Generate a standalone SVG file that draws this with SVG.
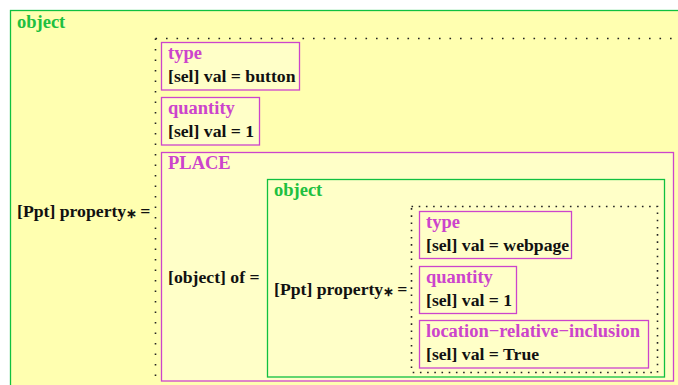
<svg xmlns="http://www.w3.org/2000/svg" width="678" height="385" viewBox="0 0 678 385">
<style>
text{font-family:"Liberation Serif","Times New Roman",serif;font-weight:bold}
.lbl{font-size:18.5px}
.body{font-size:17.7px;fill:#111}
.ast{font-size:13px}
.g{fill:#20c040}
.m{fill:#cc44cc}
.og{fill:#ffffb0;stroke:#10c040;stroke-width:1.3}
.ig{fill:#ffffc8;stroke:#10c040;stroke-width:1.3}
.mb{fill:#ffffc8;stroke:#cc44cc;stroke-width:1.3}
.dot{fill:none;stroke:#222;stroke-width:1.6;stroke-dasharray:1.6 8.9}
.dot2{fill:none;stroke:#222;stroke-width:1.6;stroke-dasharray:1.6 5.6}
</style>
<rect width="678" height="385" fill="#fff"/>
<g id="object-outer">
<rect class="og" x="10.5" y="10.5" width="680" height="390"/>
<text class="lbl g" x="17" y="28">object</text>
<text class="body" x="17" y="217">[Ppt] property<tspan class="ast" dy="1">∗</tspan><tspan dy="-1" dx="3">=</tspan></text>
</g>
<g id="type1">
<rect class="mb" x="161.5" y="42.5" width="138" height="47.5"/>
<text class="lbl m" x="168" y="59">type</text>
<text class="body" x="168" y="82">[sel] val = button</text>
</g>
<g id="quantity1">
<rect class="mb" x="161.5" y="97.5" width="98" height="47.5"/>
<text class="lbl m" x="168" y="114">quantity</text>
<text class="body" x="168" y="137">[sel] val = 1</text>
</g>
<g id="place">
<rect class="mb" x="161.5" y="152.5" width="512" height="228.5"/>
<text class="lbl m" x="168" y="169">PLACE</text>
<text class="body" x="168" y="283">[object] of =</text>
</g>
<g id="object-inner">
<rect class="ig" x="267.5" y="179.5" width="397" height="197.5"/>
<text class="lbl g" x="274" y="196">object</text>
<text class="body" x="274" y="295">[Ppt] property<tspan class="ast" dy="1">∗</tspan><tspan dy="-1" dx="3">=</tspan></text>
</g>
<g id="type2">
<rect class="mb" x="419.5" y="211.5" width="152" height="47"/>
<text class="lbl m" x="426" y="228">type</text>
<text class="body" x="426" y="251">[sel] val = webpage</text>
</g>
<g id="quantity2">
<rect class="mb" x="419.5" y="266.5" width="97" height="47"/>
<text class="lbl m" x="426" y="283">quantity</text>
<text class="body" x="426" y="306">[sel] val = 1</text>
</g>
<g id="location">
<rect class="mb" x="419.5" y="320.5" width="229" height="47.5"/>
<text class="lbl m" x="426" y="337">location−relative−inclusion</text>
<text class="body" x="426" y="360">[sel] val = True</text>
</g>
<g id="connectors">
<path class="dot" d="M155.5 38.5 H680 M155.5 38.5 V390"/>
<path class="dot2" d="M411.5 206.5 H657.5 V372.5 H411.5 Z"/>
</g>
</svg>
